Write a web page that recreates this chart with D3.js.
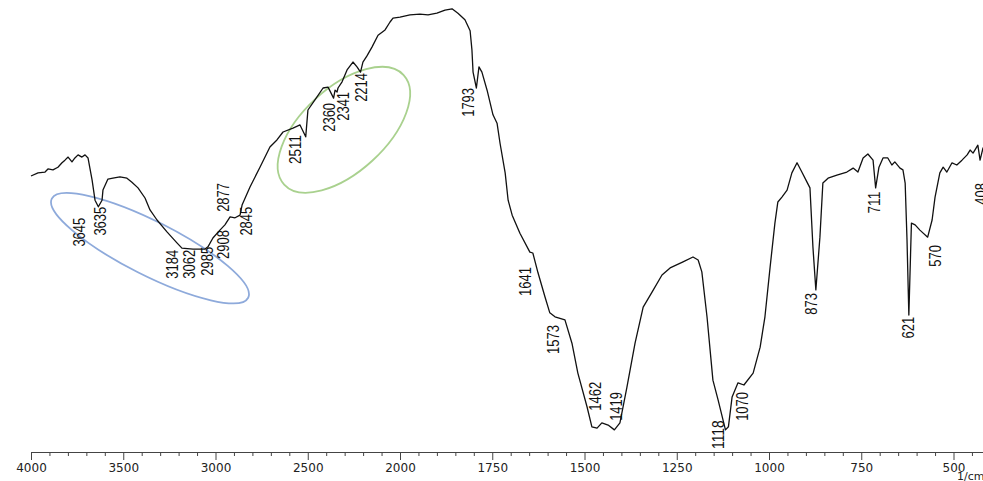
<!DOCTYPE html>
<html>
<head>
<meta charset="utf-8">
<script src="https://cdn.jsdelivr.net/npm/d3@7"></script>
<style>
  html, body { margin: 0; padding: 0; background: #fff; }
  svg { display: block; }
  .spectrum { fill: none; stroke: #111; stroke-width: 1.3; stroke-linejoin: round; }
  .peak { font-family: "Liberation Sans Narrow", "Arial Narrow", "Liberation Sans", sans-serif; font-size: 16px; fill: #111; }
  .axis text { font-family: "DejaVu Sans", sans-serif; font-size: 12px; fill: #222; }
  .axis path, .axis line { stroke: #444; }
</style>
</head>
<body>
<script>
// wavenumbers (1/cm) and transmittance (%T)
var wavenumbers = [4000, 3962, 3924, 3908, 3881, 3854, 3832, 3816, 3799, 3778, 3762, 3745, 3724, 3707, 3691,
  3669, 3653, 3635, 3615, 3610, 3583, 3556, 3518, 3480, 3453, 3420, 3382, 3355, 3317, 3263, 3209, 3182,
  3122, 3057, 3041, 3014, 2976, 2949, 2921, 2894, 2867, 2856, 2813, 2759, 2705, 2667, 2634, 2580, 2542,
  2511, 2499, 2461, 2417, 2390, 2360, 2352, 2341, 2336, 2314, 2287, 2255, 2233, 2214, 2201, 2179, 2152,
  2119, 2081, 2054, 2038, 2000, 1973, 1946, 1924, 1900, 1878, 1859, 1843, 1824, 1810, 1805, 1802, 1793,
  1786, 1778, 1764, 1748, 1737, 1729, 1715, 1707, 1696, 1675, 1648, 1640, 1626, 1607, 1594, 1580, 1553,
  1534, 1518, 1493, 1480, 1466, 1453, 1436, 1419, 1404, 1385, 1363, 1341, 1317, 1290, 1268, 1233, 1206,
  1192, 1182, 1168, 1152, 1138, 1118, 1110, 1100, 1084, 1068, 1043, 1024, 1011, 997, 984, 976, 965, 951,
  938, 924, 911, 897, 889, 881, 873, 862, 854, 840, 816, 789, 772, 759, 745, 732, 718, 711, 702, 691,
  678, 667, 659, 645, 637, 631, 626, 621, 614, 604, 591, 570, 558, 550, 537, 528, 518, 504, 491, 477,
  463, 455, 447, 434, 428, 420, 408, 400];
var transmittance = [60.0, 60.7, 60.9, 61.6, 61.4, 62.0, 63.0, 63.6, 64.3, 63.2, 64.1, 64.8, 64.3, 64.8, 64.1,
  59.1, 54.5, 53.0, 54.5, 56.8, 59.3, 59.5, 59.8, 59.5, 58.6, 57.3, 55.0, 52.3, 50.0, 47.3, 44.8, 43.6,
  43.4, 43.4, 43.9, 45.9, 47.7, 48.9, 50.7, 50.5, 51.1, 53.4, 57.5, 62.0, 66.6, 68.2, 70.0, 70.9, 71.6,
  68.9, 75.0, 77.3, 80.0, 80.2, 77.7, 79.5, 79.1, 80.0, 81.4, 84.1, 85.9, 84.8, 83.6, 85.9, 87.3, 89.3,
  92.0, 93.2, 95.0, 95.9, 96.1, 96.6, 96.8, 96.6, 97.0, 97.7, 98.0, 97.0, 95.5, 93.0, 88.6, 83.6, 80.0,
  84.8, 83.6, 79.5, 73.9, 72.0, 67.5, 60.7, 54.5, 51.1, 47.0, 42.7, 42.5, 38.0, 32.5, 28.9, 28.0, 27.3,
  22.0, 15.2, 7.5, 3.0, 2.7, 3.9, 3.4, 2.3, 3.9, 12.0, 22.0, 30.2, 33.6, 37.5, 39.1, 40.5, 41.6,
  40.9, 38.2, 28.0, 13.6, 9.1, 2.3, 3.0, 9.8, 13.0, 12.5, 15.2, 21.1, 28.0, 39.3, 49.3, 54.1, 55.2, 56.8,
  60.7, 63.0, 60.9, 58.6, 57.3, 43.9, 34.1, 46.1, 58.4, 59.5, 60.2, 60.9, 61.8, 60.9, 64.1, 65.0, 63.6,
  57.3, 62.0, 64.1, 64.1, 62.5, 63.2, 61.8, 61.4, 58.4, 45.5, 28.4, 49.3, 48.9, 47.7, 46.1, 50.0, 55.2,
  60.7, 62.0, 60.9, 63.0, 62.5, 63.6, 64.8, 65.9, 65.2, 67.0, 63.6, 66.4, 60.2, 63.6];

// peak labels: text, and where the top end of the label sits (1/cm, %T)
var peakText = ["3645", "3635", "3184", "3062", "2985", "2908", "2877", "2845", "2511", "2360", "2341", "2214",
  "1793", "1641", "1573", "1462", "1419", "1118", "1070", "873", "711", "621", "570", "408"];
var peakWn = [3740, 3626, 3233, 3144, 3043, 2957, 2957, 2835, 2569, 2382, 2309, 2209,
  1814, 1661, 1584, 1472, 1413, 1137, 1072, 885, 715, 622, 550, 424];
var peakT = [50.5, 53.0, 43.2, 43.2, 43.9, 47.7, 58.4, 53.0, 69.3, 76.6, 79.1, 83.4,
  80.0, 39.3, 26.1, 13.2, 10.9, 4.5, 10.9, 33.4, 56.4, 28.0, 44.3, 58.4];

// axis ticks
var majorTicks = [4000, 3500, 3000, 2500, 2000, 1750, 1500, 1250, 1000, 750, 500];
var minorTicks = [3900, 3800, 3700, 3600, 3400, 3300, 3200, 3100, 2900, 2800, 2700, 2600,
  2400, 2300, 2200, 2100, 1950, 1900, 1850, 1800, 1700, 1650, 1600, 1550, 1450, 1400, 1350, 1300,
  1200, 1150, 1100, 1050, 950, 900, 850, 800, 700, 650, 600, 550, 450, 400];

// highlight ellipses: centre (1/cm, %T)
var ringWn = [3355, 2304];
var ringT = [43.6, 70.5];
var ringColor = ["#8eaadb", "#a9d18e"];

var width = 983, height = 481;

// the x axis is doubled in scale below 2000 1/cm, as on the instrument print-out
var xScale = d3.scaleLinear()
    .domain([4000, 2000, 400])
    .range([31, 400, 990.4]);
var yScale = d3.scaleLinear()
    .domain([0, 100])
    .range([440, 0]);

var svg = d3.select("body").append("svg")
    .attr("width", width)
    .attr("height", height);

var data = wavenumbers.map(function(w, i) { return {wn: w, t: transmittance[i]}; });

var line = d3.line()
    .x(function(d) { return xScale(d.wn); })
    .y(function(d) { return yScale(d.t); });

// ellipses
var rings = [
  {rx: 110, ry: 27, angle: 26.8},
  {rx: 81, ry: 42, angle: -42.5}
];
svg.selectAll(".ring").data(rings)
  .enter().append("ellipse")
    .attr("class", "ring")
    .attr("rx", function(d) { return d.rx; })
    .attr("ry", function(d) { return d.ry; })
    .attr("transform", function(d, i) {
      return "translate(" + xScale(ringWn[i]) + "," + yScale(ringT[i]) + ") rotate(" + d.angle + ")";
    })
    .attr("fill", "none")
    .attr("stroke", function(d, i) { return ringColor[i]; })
    .attr("stroke-width", 1.8);

svg.append("path")
    .datum(data)
    .attr("class", "spectrum")
    .attr("d", line);

// peak labels (condensed, like the print-out)
svg.selectAll(".peak").data(peakText)
  .enter().append("text")
    .attr("class", "peak")
    .attr("text-anchor", "end")
    .attr("dy", "0.36em")
    .attr("textLength", function(d) { return d.length * 7.2; })
    .attr("lengthAdjust", "spacingAndGlyphs")
    .attr("transform", function(d, i) {
      return "translate(" + xScale(peakWn[i]) + "," + yScale(peakT[i]) + ") rotate(-90)";
    })
    .text(function(d) { return d; });

// axis
var gX = svg.append("g")
    .attr("class", "axis")
    .attr("transform", "translate(0,452)");
gX.call(d3.axisBottom(xScale)
    .tickValues(majorTicks)
    .tickSizeInner(8)
    .tickSizeOuter(0)
    .tickPadding(3)
    .tickFormat(d3.format("d")));
gX.append("g")
    .call(d3.axisBottom(xScale)
      .tickValues(minorTicks)
      .tickSizeInner(4)
      .tickSizeOuter(0)
      .tickFormat(""))
    .select(".domain").remove();

gX.append("text")
    .attr("x", 957)
    .attr("y", 28)
    .attr("text-anchor", "start")
    .style("font-size", "11px")
    .text("1/cm");
</script>
</body>
</html>
